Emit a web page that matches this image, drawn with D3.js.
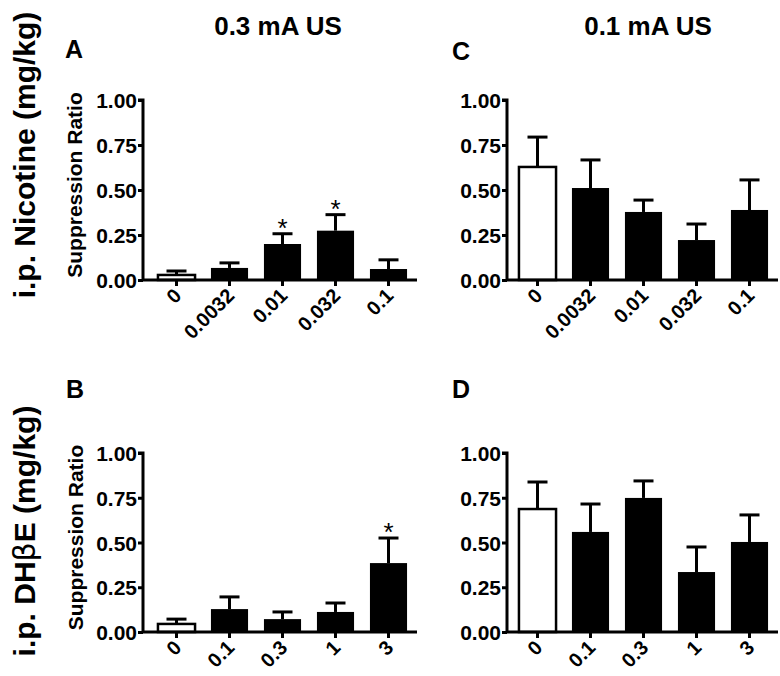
<!DOCTYPE html>
<html><head><meta charset="utf-8">
<script src="https://cdn.jsdelivr.net/npm/d3@7"></script>
<style>
body{margin:0;background:#fff;}
text{font-family:"Liberation Sans",Arial,sans-serif;font-weight:bold;fill:#000;}
</style></head>
<body><svg id="c" width="780" height="676"></svg>
<script>
const nicotineDoses = ["0","0.0032","0.01","0.032","0.1"];
const dhbeDoses = ["0","0.1","0.3","1","3"];
const yTicks = [0, 0.25, 0.5, 0.75, 1.0];
const meanA = [0.028, 0.067, 0.200, 0.274, 0.061];
const semA  = [0.022, 0.028, 0.057, 0.089, 0.051];
const starA = [false, false, true, true, false];
const meanC = [0.628, 0.511, 0.378, 0.222, 0.389];
const semC  = [0.166, 0.156, 0.066, 0.089, 0.167];
const starC = [false, false, false, false, false];
const meanB = [0.045, 0.128, 0.072, 0.112, 0.385];
const semB  = [0.027, 0.068, 0.040, 0.050, 0.140];
const starB = [false, false, false, false, true];
const meanD = [0.687, 0.559, 0.749, 0.335, 0.503];
const semD  = [0.151, 0.156, 0.095, 0.140, 0.151];
const starD = [false, false, false, false, false];

const svg = d3.select("#c");

const panels = [
  {letter:"A", cats:nicotineDoses, mean:meanA, sem:semA, star:starA, x0:143, bx:[150,415], x1:417, y0:280, y1:100, ylab:true, lx:74, ly:58},
  {letter:"C", cats:nicotineDoses, mean:meanC, sem:semC, star:starC, x0:507, bx:[511,776], x1:778, y0:280, y1:100, ylab:false, lx:461, ly:60},
  {letter:"B", cats:dhbeDoses, mean:meanB, sem:semB, star:starB, x0:143, bx:[150,415], x1:417, y0:632, y1:453, ylab:true, lx:75, ly:398},
  {letter:"D", cats:dhbeDoses, mean:meanD, sem:semD, star:starD, x0:507, bx:[511,776], x1:778, y0:632, y1:453, ylab:false, lx:461, ly:398}
];

panels.forEach(p => {
  const x = d3.scaleBand().domain(p.cats).range(p.bx).paddingInner(0.3).paddingOuter(0.15);
  const y = d3.scaleLinear().domain([0,1]).range([p.y0, p.y1]);
  const g = svg.append("g");

  const data = p.cats.map((c,i)=>({c, m:p.mean[i], s:p.sem[i], star:p.star[i], i}));
  data.forEach(d => {
    const cx = x(d.c) + x.bandwidth()/2;
    g.append("line").attr("x1",cx).attr("x2",cx).attr("y1",y(d.m)).attr("y2",y(d.m+d.s))
      .attr("stroke","#000").attr("stroke-width",3);
    g.append("line").attr("x1",cx-10).attr("x2",cx+10).attr("y1",y(d.m+d.s)).attr("y2",y(d.m+d.s))
      .attr("stroke","#000").attr("stroke-width",3);
    if (d.star) {
      g.append("text").attr("x",cx).attr("y",y(d.m+d.s)+3).attr("text-anchor","middle")
        .style("font-size","26px").style("font-weight","normal").text("*");
    }
  });
  g.selectAll("rect.bar").data(data).join("rect").attr("class","bar")
    .attr("x", d => x(d.c)).attr("width", x.bandwidth())
    .attr("y", d => y(d.m)).attr("height", d => y(0)-y(d.m))
    .attr("fill", d => d.i===0 ? "#fff" : "#000")
    .attr("stroke","#000").attr("stroke-width", d => d.i===0 ? 2.5 : 0);

  // y axis
  const ya = g.append("g").attr("transform",`translate(${p.x0},0)`)
    .call(d3.axisLeft(y).tickValues(yTicks).tickFormat(d3.format(".2f")).tickSize(5).tickPadding(1));
  ya.select(".domain").attr("stroke-width",3).attr("d",`M-5,${y(1)}H0V${y(0)}`);
  ya.selectAll(".tick line").attr("stroke-width",3);
  ya.selectAll(".tick text").style("font-size","21px").style("font-family","Liberation Sans, Arial").style("font-weight","bold").attr("dy","0.36em");

  // x axis
  const xa = g.append("g").attr("transform",`translate(0,${p.y0})`)
    .call(d3.axisBottom(x).tickSize(6).tickFormat(""));
  xa.select(".domain").attr("stroke-width",3).attr("d",`M${p.x0},0H${p.x1}`);
  xa.selectAll(".tick line").attr("stroke-width",3);
  p.cats.forEach(c => {
    const cx = x(c) + x.bandwidth()/2;
    g.append("text").attr("transform",`translate(${cx+6},${p.y0+17}) rotate(-45)`)
      .attr("text-anchor","end").style("font-size","20px").text(c);
  });

  if (p.ylab) {
    svg.append("text").attr("transform",`translate(${p.lx+8},${(p.y0+p.y1)/2 - 5}) rotate(-90)`)
      .attr("text-anchor","middle").style("font-size","21px").text("Suppression Ratio");
  }
  svg.append("text").attr("x",p.lx).attr("y",p.ly).attr("text-anchor","middle")
    .style("font-size","25px").text(p.letter);
});

// column titles
svg.append("text").attr("x",278).attr("y",35).attr("text-anchor","middle").style("font-size","26px").text("0.3 mA US");
svg.append("text").attr("x",648).attr("y",35).attr("text-anchor","middle").style("font-size","26px").text("0.1 mA US");

// row titles
svg.append("text").attr("transform","translate(35,155) rotate(-90)").attr("text-anchor","middle")
  .style("font-size","30px").text("i.p. Nicotine (mg/kg)");
const rt = svg.append("text").attr("transform","translate(35,531) rotate(-90)").attr("text-anchor","middle")
  .style("font-size","30px");
rt.append("tspan").text("i.p. DH");
rt.append("tspan").style("font-weight","normal").style("font-family","DejaVu Sans, sans-serif").text("β");
rt.append("tspan").text("E (mg/kg)");
</script></body></html>
